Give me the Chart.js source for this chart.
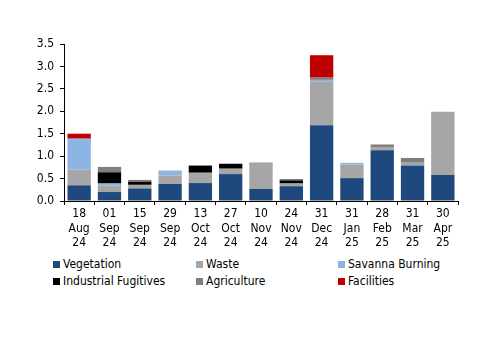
<!DOCTYPE html>
<html>
<head>
    <title>Emissions by source</title>
    <style>
        body {
            margin: 0;
            background: white;
            font-family: 'DejaVu Sans Condensed', 'DejaVu Sans', sans-serif;
        }
        .wrap {
            position: relative;
            width: 500px;
            height: 353px;
        }
        .chart-box {
            position: absolute;
            left: 0;
            top: 0;
            width: 500px;
            height: 255px;
        }
        .legend {
            position: absolute;
            left: 0;
            top: 256px;
            width: 500px;
            font-size: 12px;
            color: #000;
        }
        .legend .item {
            position: absolute;
            height: 16px;
            line-height: 16px;
            white-space: nowrap;
        }
        .legend .swatch {
            display: inline-block;
            width: 7px;
            height: 7px;
            margin-right: 3px;
            vertical-align: 0px;
        }
    </style>
</head>
<body>
    <div class="wrap">
        <div class="chart-box"><canvas id="emissionsChart"></canvas></div>
        <div class="legend" id="legend"></div>
    </div>

    <script src="https://cdn.jsdelivr.net/npm/chart.js"></script>
    <script>
        const dates = [
            ['18', 'Aug', '24'], ['01', 'Sep', '24'], ['15', 'Sep', '24'], ['29', 'Sep', '24'],
            ['13', 'Oct', '24'], ['27', 'Oct', '24'], ['10', 'Nov', '24'], ['24', 'Nov', '24'],
            ['31', 'Dec', '24'], ['31', 'Jan', '25'], ['28', 'Feb', '25'], ['31', 'Mar', '25'],
            ['30', 'Apr', '25']
        ];

        const vegetation = [0.35, 0.20, 0.28, 0.38, 0.40, 0.60, 0.27, 0.33, 1.69, 0.51, 1.13, 0.79, 0.58];
        const waste      = [0.35, 0.14, 0.08, 0.19, 0.23, 0.12, 0.59, 0.06, 0.98, 0.30, 0.06, 0.08, 1.41];
        const savanna    = [0.69, 0.05, 0, 0.11, 0, 0, 0, 0, 0.03, 0.04, 0, 0, 0];
        const industrial = [0, 0.25, 0.07, 0, 0.16, 0.11, 0, 0.07, 0, 0, 0, 0, 0];
        const agriculture = [0, 0.12, 0.04, 0, 0, 0, 0, 0.03, 0.05, 0, 0.07, 0.09, 0];
        const facilities = [0.11, 0, 0, 0, 0, 0, 0, 0, 0.50, 0, 0, 0, 0];

        const yTicks = [0, 0.5, 1.0, 1.5, 2.0, 2.5, 3.0, 3.5];

        const series = [
            { label: 'Vegetation', data: vegetation, color: '#1f497d' },
            { label: 'Waste', data: waste, color: '#a6a6a6' },
            { label: 'Savanna Burning', data: savanna, color: '#8db4e2' },
            { label: 'Industrial Fugitives', data: industrial, color: '#000000' },
            { label: 'Agriculture', data: agriculture, color: '#7f7f7f' },
            { label: 'Facilities', data: facilities, color: '#c00000' }
        ];

        Chart.defaults.font.family = "'DejaVu Sans Condensed', 'DejaVu Sans', sans-serif";
        Chart.defaults.font.size = 12;
        Chart.defaults.color = '#000';

        const ctx = document.getElementById('emissionsChart').getContext('2d');
        new Chart(ctx, {
            type: 'bar',
            data: {
                labels: dates,
                datasets: series.map(s => ({
                    label: s.label,
                    data: s.data,
                    backgroundColor: s.color,
                    borderWidth: 0,
                    categoryPercentage: 1,
                    barPercentage: 0.77
                }))
            },
            options: {
                responsive: true,
                maintainAspectRatio: false,
                animation: false,
                layout: { padding: { left: 0, right: 42, top: 44, bottom: 0 } },
                plugins: {
                    legend: { display: false },
                    tooltip: { enabled: false }
                },
                scales: {
                    x: {
                        stacked: true,
                        grid: {
                            drawOnChartArea: false,
                            drawTicks: true,
                            tickLength: 4,
                            color: '#000'
                        },
                        border: { color: '#000', width: 1 },
                        ticks: { padding: 2, maxRotation: 0, autoSkip: false },
                        afterFit: (scale) => { scale.height = 54; }
                    },
                    y: {
                        stacked: true,
                        min: 0,
                        max: 3.5,
                        grid: {
                            drawOnChartArea: false,
                            drawTicks: true,
                            tickLength: 4,
                            color: '#000'
                        },
                        border: { color: '#000', width: 1 },
                        afterBuildTicks: (scale) => {
                            scale.ticks = yTicks.map(v => ({ value: v }));
                        },
                        ticks: {
                            padding: 6,
                            callback: (v) => Number(v).toFixed(1)
                        },
                        afterFit: (scale) => { scale.width = 64; }
                    }
                }
            }
        });

        // legend in three columns like the original
        const legendPos = [
            { x: 53, y: 0 }, { x: 196, y: 0 }, { x: 338, y: 0 },
            { x: 53, y: 17 }, { x: 196, y: 17 }, { x: 338, y: 17 }
        ];
        const legend = document.getElementById('legend');
        series.forEach((s, i) => {
            const item = document.createElement('div');
            item.className = 'item';
            item.style.left = legendPos[i].x + 'px';
            item.style.top = legendPos[i].y + 'px';
            item.innerHTML = '<span class="swatch" style="background:' + s.color + '"></span>' + s.label;
            legend.appendChild(item);
        });
    </script>
</body>
</html>
